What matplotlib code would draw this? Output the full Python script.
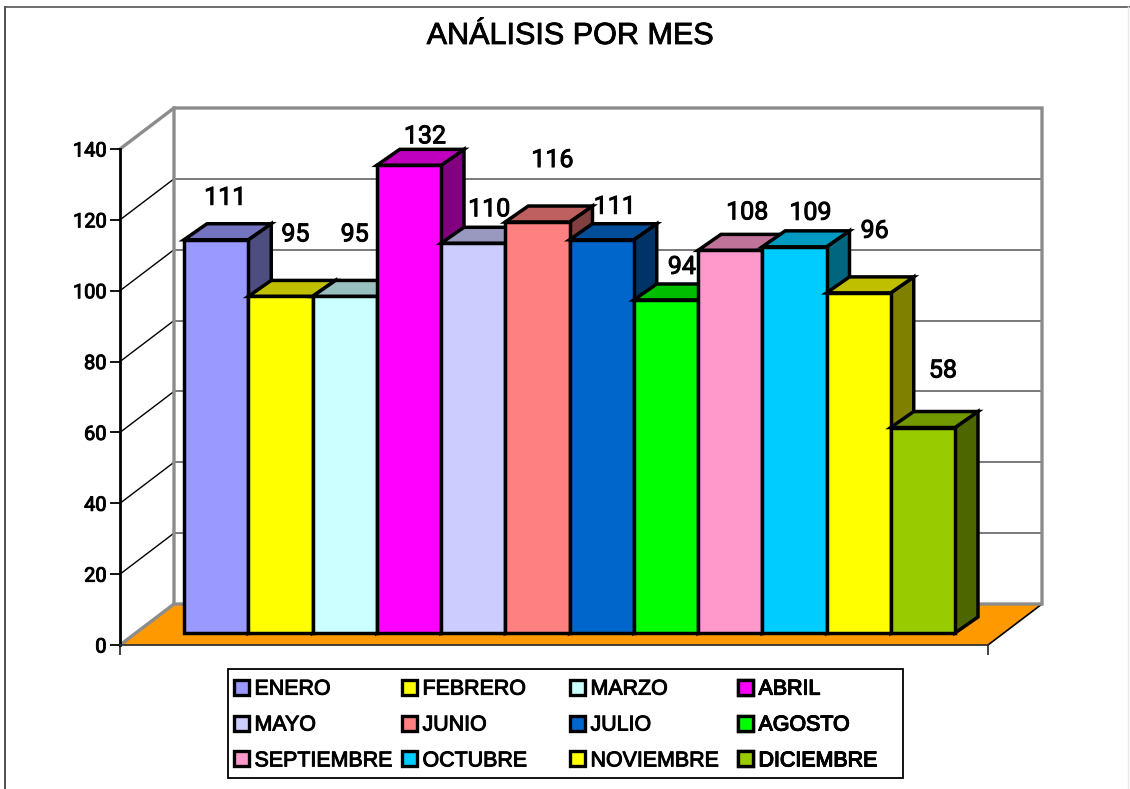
import matplotlib
matplotlib.use("Agg")
import matplotlib.pyplot as plt
import matplotlib.patheffects as pe
from matplotlib.colors import to_rgb
from matplotlib.lines import Line2D
from matplotlib.patches import Patch, Rectangle

months = ["ENERO", "FEBRERO", "MARZO", "ABRIL", "MAYO", "JUNIO", "JULIO", "AGOSTO",
          "SEPTIEMBRE", "OCTUBRE", "NOVIEMBRE", "DICIEMBRE"]
values = [111, 95, 95, 132, 110, 116, 111, 94, 108, 109, 96, 58]
colors = ["#9999FF", "#FFFF00", "#CCFFFF", "#FF00FF", "#CCCCFF", "#FF8080",
          "#0066CC", "#00FF00", "#FF99CC", "#00CCFF", "#FFFF00", "#99CC00"]
y_ticks = [0, 20, 40, 60, 80, 100, 120, 140]
label_dx = [9, 15, 10, 16, 16, 15, 13, 16, 17, 16, 16, 20]
label_dy = [42, 62, 62, 29, 34, 62, 33, 33, 38, 34, 62, 57]

W, H = 1130, 789
plt.rcParams["font.family"] = ["Liberation Sans", "DejaVu Sans"]
NUM_FONT = "Roboto"   # its "1" has no foot, like the reference's digits
fig = plt.figure(figsize=(W / 100, H / 100), dpi=100, facecolor="white")
heavy = [pe.withStroke(linewidth=0.7, foreground="black")]

# front plane of the 3-D box, in figure pixels
left, right, bottom, top = 120, 988, 645, 149
ax = fig.add_axes([left / W, 1 - bottom / H, (right - left) / W, (bottom - top) / H])
ax.patch.set_visible(False)
px_x = 64.25                      # pixels per category
px_y = (bottom - top) / 140       # pixels per value unit
x_lo = -0.5 - (184 - left - 16) / px_x
ax.set_xlim(x_lo, x_lo + (right - left) / px_x)
ax.set_ylim(0, 140)

dep_x, dep_y = 54 / px_x, 41 / px_y   # depth of the box in data units
bar_x, bar_y = 16 / px_x, 12 / px_y   # front plane of the bars
bd_x, bd_y = 23 / px_x, 16 / px_y     # depth of a bar
xa, xb = ax.get_xlim()
GRAY = "#8C8C8C"

# floor and walls
ax.fill([xa, xb, xb + dep_x, xa + dep_x], [0, 0, dep_y, dep_y], color="#FF9900", lw=0,
        zorder=1, clip_on=False)
ax.plot([xb, xb + dep_x], [0, dep_y], color="black", lw=1.2, zorder=1.1, clip_on=False)
for t in y_ticks[1:-1]:
    ax.plot([xa, xa + dep_x], [t, t + dep_y], color="black", lw=1.0, clip_on=False, zorder=1.1)
    ax.plot([xa + dep_x, xb + dep_x], [t + dep_y, t + dep_y], color="#555555", lw=1.1, clip_on=False, zorder=1.1)
ax.plot([xa, xa + dep_x, xa + dep_x], [0, dep_y, 140 + dep_y], color=GRAY, lw=2.4,
        clip_on=False, zorder=1.2, solid_joinstyle="miter")
ax.plot([xa, xa + dep_x, xb + dep_x, xb + dep_x, xa + dep_x],
        [140, 140 + dep_y, 140 + dep_y, dep_y, dep_y], color=GRAY, lw=2.4,
        clip_on=False, zorder=1.2, solid_joinstyle="miter")

# bars, left to right so each front hides the neighbour's side
for i, (v, c) in enumerate(zip(values, colors)):
    rgb = to_rgb(c)
    x0, x1 = i - 0.5 + bar_x, i + 0.5 + bar_x
    y0, y1 = bar_y, v + bar_y
    z = 2 + i * 0.01
    kw = dict(edgecolor="black", lw=2.5, joinstyle="miter", clip_on=False, zorder=z)
    ax.fill([x1, x1 + bd_x, x1 + bd_x, x1], [y0, y0 + bd_y, y1 + bd_y, y1],
            facecolor=tuple(k * 0.5 for k in rgb), **kw)
    ax.fill([x0, x1, x1 + bd_x, x0 + bd_x], [y1, y1, y1 + bd_y, y1 + bd_y],
            facecolor=tuple(k * 0.75 for k in rgb), **kw)
    ax.bar(i + bar_x, v, width=1.0, bottom=bar_y, color=c, edgecolor="black", lw=2.5,
           clip_on=False, zorder=z + 0.001)
    ax.annotate(str(v), xy=(i + bar_x, y1), xytext=(label_dx[i], label_dy[i]),
                textcoords="offset pixels", ha="center", va="center", fontsize=18,
                family=NUM_FONT, color="black", zorder=5, annotation_clip=False,
                path_effects=heavy)

# real axes: value axis and the two category ticks
for s in ("top", "right"):
    ax.spines[s].set_visible(False)
ax.spines["left"].set_linewidth(2.0)
ax.spines["bottom"].set_linewidth(1.3)
ax.spines["bottom"].set_color("#333333")
ax.set_yticks(y_ticks)
ax.set_xticks([xa, xb])
ax.set_xticklabels(["", ""])
ax.tick_params(axis="y", length=7.2, width=1.3, pad=2.5, labelsize=14.4)
ax.tick_params(axis="x", length=7.2, width=1.3, color="#333333")
for t in ax.get_yticklabels():
    t.set_family(NUM_FONT)
    t.set_path_effects(heavy)

fig.text(570 / W, 1 - 36 / H, "ANÁLISIS POR MES", ha="center", va="center", fontsize=22,
         color="black", path_effects=[pe.withStroke(linewidth=0.6, foreground="black")])

# legend: box plus one column-legend per column
ax.add_patch(Rectangle((228 / W, 1 - 778 / H), 675 / W, 109 / H, transform=fig.transFigure,
                       facecolor="white", edgecolor="black", lw=1.3, zorder=5.5, clip_on=False))
col_x = [234, 402, 570, 738]
handles = [Patch(facecolor=c, edgecolor="black", lw=2.4) for c in colors]
for k in range(4):
    leg = ax.legend(handles[k::4], months[k::4], loc="center left",
                    bbox_to_anchor=(col_x[k] / W, 1 - 725 / H), bbox_transform=fig.transFigure,
                    frameon=False, fontsize=15.4, handlelength=0.72, handleheight=0.7,
                    handletextpad=0.24, labelspacing=0.79, borderpad=0, borderaxespad=0)
    for t in leg.get_texts():
        t.set_path_effects(heavy)
    leg.set_zorder(6)
    ax.add_artist(leg)

# outer chart frame
fig.add_artist(Line2D([5 / W, 5 / W], [0, 1 - 7 / H], transform=fig.transFigure, color="#333333", lw=1.2))
fig.add_artist(Line2D([5 / W, 1], [1 - 7 / H, 1 - 7 / H], transform=fig.transFigure, color="#555555", lw=1.2))
fig.add_artist(Line2D([1128 / W, 1128 / W], [0, 1 - 7 / H], transform=fig.transFigure, color="#E8E8E8", lw=1.0))

fig.savefig("out.png", dpi=100, facecolor="white")
